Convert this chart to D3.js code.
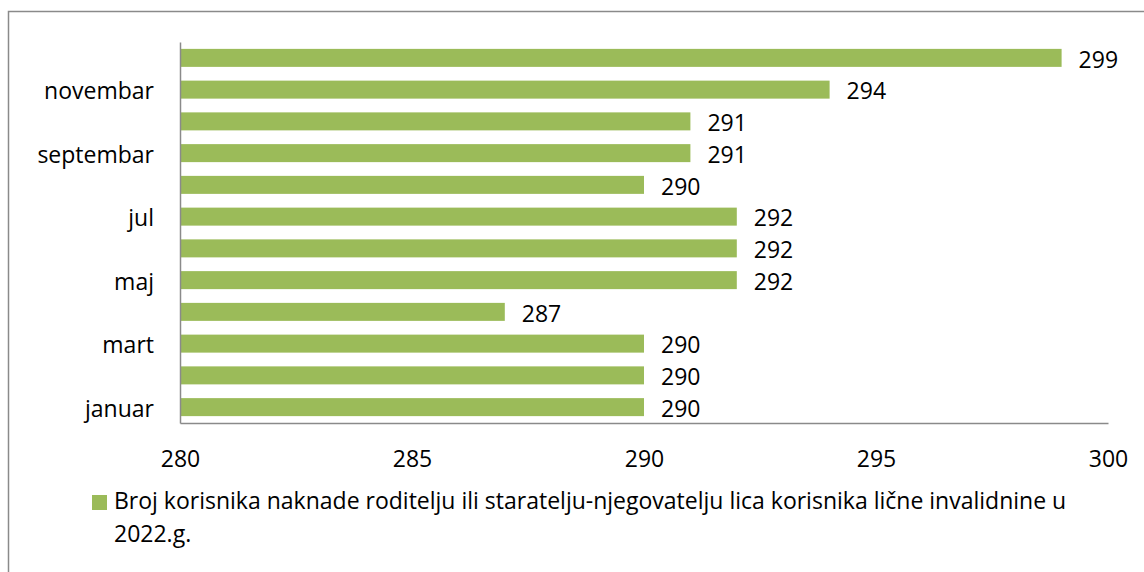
<!DOCTYPE html>
<html>
<head>
<meta charset="utf-8">
<script src="https://cdn.jsdelivr.net/npm/d3@7"></script>
<style>
  body { margin: 0; background: #fff; }
  text { font-family: "Open Sans", sans-serif; fill: #000; }
</style>
</head>
<body>
<div id="chart"></div>
<script>
// Data
var months = ["januar", "februar", "mart", "april", "maj", "jun", "jul", "avgust", "septembar", "oktobar", "novembar", "decembar"];
var values = [290, 290, 290, 287, 292, 292, 292, 290, 291, 291, 294, 299];
var shownLabels = ["januar", "mart", "maj", "jul", "septembar", "novembar"];
var xTicks = [280, 285, 290, 295, 300];
var legendLines = ["Broj korisnika naknade roditelju ili staratelju-njegovatelju lica korisnika lične invalidnine u", "2022.g."];

var svgWidth = 1144;
var svgHeight = 572;

var margin = { top: 42, left: 180, right: 36, bottom: 149 };
var width = svgWidth - margin.left - margin.right;
var height = svgHeight - margin.top - margin.bottom;

var svg = d3.select("#chart")
  .append("svg")
  .attr("width", svgWidth)
  .attr("height", svgHeight);

// outer frame
svg.append("rect")
  .attr("x", 8.5)
  .attr("y", 11.5)
  .attr("width", svgWidth + 10)
  .attr("height", svgHeight + 10)
  .attr("fill", "none")
  .attr("stroke", "#8a8a8a")
  .attr("stroke-width", 1.5);

var chartGroup = svg.append("g")
  .attr("transform", `translate(${margin.left}, ${margin.top})`);

var data = months.map((m, i) => ({ month: m, value: values[i] }));

// Scales
var xScale = d3.scaleLinear()
  .domain([280, 300])
  .range([0, 928]);

var yScale = d3.scaleBand()
  .domain(months.slice().reverse())
  .range([0, height])
  .paddingInner(0.433)
  .paddingOuter(0.2165);

// Bars
chartGroup.selectAll("rect.bar")
  .data(data)
  .enter()
  .append("rect")
  .attr("class", "bar")
  .attr("x", 0)
  .attr("y", d => yScale(d.month))
  .attr("width", d => xScale(d.value))
  .attr("height", yScale.bandwidth())
  .attr("fill", "#9bbb59");

// Value labels
chartGroup.selectAll("text.val")
  .data(data)
  .enter()
  .append("text")
  .attr("class", "val")
  .attr("x", d => xScale(d.value) + 17)
  .attr("y", d => yScale(d.month) + yScale.bandwidth() / 2)
  .attr("dy", "0.42em")
  .style("font-size", "23px")
  .text(d => d.value);

// Y axis
var leftAxis = d3.axisLeft(yScale)
  .tickSize(0)
  .tickPadding(26)
  .tickFormat(d => shownLabels.includes(d) ? d : "");

var yAxisG = chartGroup.append("g").call(leftAxis);
yAxisG.select(".domain").attr("stroke", "#8a8a8a").attr("stroke-width", 1.5);
yAxisG.selectAll("text")
  .style("font-size", "23px")
  .attr("dy", "0.42em")
  .attr("font-family", null);

// X axis
var bottomAxis = d3.axisBottom(xScale)
  .tickValues(xTicks)
  .tickSize(0)
  .tickPadding(28);

var xAxisG = chartGroup.append("g")
  .attr("transform", `translate(0, ${height})`)
  .call(bottomAxis);
xAxisG.select(".domain").attr("stroke", "#8a8a8a").attr("stroke-width", 1.5);
xAxisG.selectAll("text")
  .style("font-size", "23px")
  .attr("font-family", null);

// Legend
var legend = svg.append("g");
legend.append("rect")
  .attr("x", 92)
  .attr("y", 495)
  .attr("width", 15)
  .attr("height", 15)
  .attr("fill", "#9bbb59");

legend.selectAll("text")
  .data(legendLines)
  .enter()
  .append("text")
  .attr("x", 114)
  .attr("y", (d, i) => 509 + i * 33)
  .style("font-size", "23px")
  .text(d => d);
</script>
</body>
</html>
